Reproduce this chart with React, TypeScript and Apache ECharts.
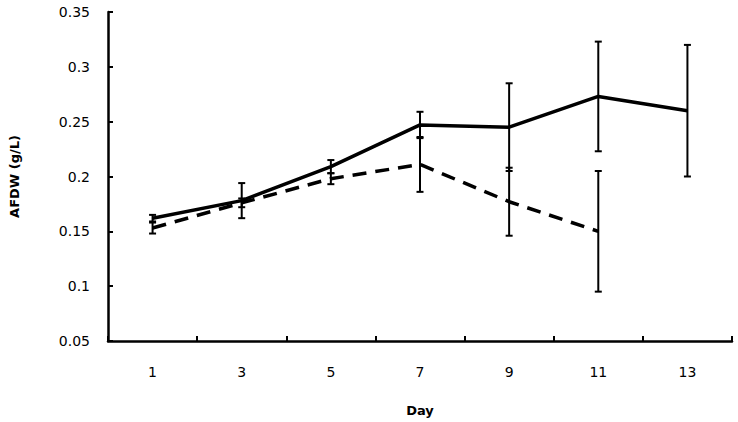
import React, { useEffect, useRef } from "react";
import * as echarts from "echarts";

const days = ["1", "3", "5", "7", "9", "11", "13"];
const solidValues = [0.162, 0.178, 0.209, 0.247, 0.245, 0.273, 0.26];
const solidErrors = [0.003, 0.016, 0.006, 0.012, 0.04, 0.05, 0.06];
const dashedValues: (number | null)[] = [0.153, 0.176, 0.198, 0.211, 0.177, 0.15, null];
const dashedErrors: (number | null)[] = [0.005, 0.004, 0.005, 0.025, 0.031, 0.055, null];

function errorData(values: (number | null)[], errors: (number | null)[]) {
  const out: any[] = [];
  values.forEach((v, i) => {
    const e = errors[i];
    if (v != null && e != null) out.push([i, v - e, v + e]);
  });
  return out;
}

function errorSeries(data: any[]) {
  return {
    type: "custom",
    data,
    silent: true,
    z: 5,
    renderItem: (params: any, api: any) => {
      const x = api.value(0);
      const lo = api.coord([x, api.value(1)]);
      const hi = api.coord([x, api.value(2)]);
      const hw = 3.5;
      const style = { stroke: "#000", lineWidth: 2 };
      return {
        type: "group",
        children: [
          { type: "line", shape: { x1: lo[0], y1: lo[1], x2: hi[0], y2: hi[1] }, style },
          { type: "line", shape: { x1: lo[0] - hw, y1: lo[1], x2: lo[0] + hw, y2: lo[1] }, style },
          { type: "line", shape: { x1: hi[0] - hw, y1: hi[1], x2: hi[0] + hw, y2: hi[1] }, style },
        ],
      };
    },
  };
}

export default function App() {
  const ref = useRef<HTMLDivElement>(null);
  useEffect(() => {
    if (!ref.current) return;
    const chart = echarts.init(ref.current, undefined, { renderer: "svg" });
    const font = "DejaVu Sans";
    chart.setOption({
      animation: false,
      backgroundColor: "#fff",
      grid: { left: 100, right: 6, top: 12, bottom: 79, containLabel: false },
      xAxis: {
        type: "category",
        data: days,
        boundaryGap: true,
        name: "Day",
        nameLocation: "middle",
        nameGap: 63,
        nameTextStyle: { fontFamily: font, fontSize: 13, fontWeight: "bold", color: "#000" },
        axisLine: { lineStyle: { color: "#000", width: 2.5 } },
        axisTick: { show: true, inside: true, length: 5, lineStyle: { color: "#000", width: 2 } },
        axisLabel: { fontFamily: font, fontSize: 14, color: "#000", margin: 24 },
        splitLine: { show: false },
      },
      yAxis: {
        type: "value",
        min: 0.05,
        max: 0.35,
        interval: 0.05,
        name: "AFDW (g/L)",
        nameLocation: "middle",
        nameGap: 87,
        nameRotate: 90,
        nameTextStyle: { fontFamily: font, fontSize: 13, fontWeight: "bold", color: "#000" },
        axisLine: { show: true, lineStyle: { color: "#000", width: 2.5 } },
        axisTick: { show: true, inside: true, length: 5, lineStyle: { color: "#000", width: 2 } },
        axisLabel: {
          fontFamily: font,
          fontSize: 14,
          color: "#000",
          margin: 18,
          formatter: (v: number) => String(+v.toFixed(2)),
        },
        splitLine: { show: false },
      },
      series: [
        {
          type: "line",
          data: solidValues,
          symbol: "none",
          lineStyle: { color: "#000", width: 3.5 },
          z: 4,
        },
        {
          type: "line",
          data: dashedValues,
          symbol: "none",
          connectNulls: false,
          lineStyle: { color: "#000", width: 3.5, type: [14, 9] },
          z: 4,
        },
        errorSeries(errorData(solidValues, solidErrors)),
        errorSeries(errorData(dashedValues, dashedErrors)),
      ],
    });
    return () => chart.dispose();
  }, []);
  return <div ref={ref} style={{ width: 738, height: 422, position: "absolute", left: 0, top: 0 }} />;
}
